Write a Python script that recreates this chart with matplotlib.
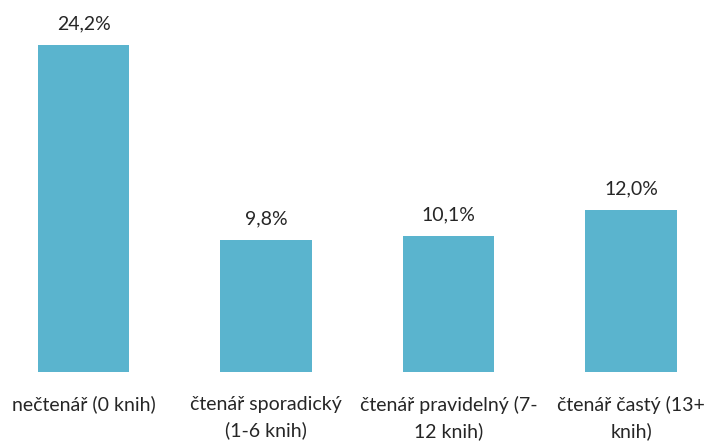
import matplotlib.pyplot as plt
import numpy as np

categories = ["nečtenář (0 knih)", "čtenář sporadický\n(1-6 knih)",
              "čtenář pravidelný (7-\n12 knih)", "čtenář častý (13+\nknih)"]
values = [24.2, 9.8, 10.1, 12.0]
value_labels = ["24,2%", "9,8%", "10,1%", "12,0%"]

plt.rcParams['font.family'] = ['Lato', 'DejaVu Sans']

fig = plt.figure(figsize=(7.07, 4.43), dpi=100)
ax = fig.add_axes([0.0149, 0.1603, 0.981, 0.7619])

x = np.arange(len(values))
bars = ax.bar(x, values, width=0.5, color='#5AB4CE')

# value labels above bars
for xi, v, lab in zip(x, values, value_labels):
    ax.annotate(lab, (xi, v), xytext=(0, 9), textcoords='offset points',
                ha='center', va='bottom', fontsize=14, color='#262626')

ax.set_xlim(-0.4, 3.4)
ax.set_ylim(0, 25)
ax.set_xticks(x)
ax.set_xticklabels(categories, fontsize=14, color='#262626', linespacing=1.55)
ax.tick_params(axis='x', length=0, pad=17)
ax.set_yticks([])
for s in ax.spines.values():
    s.set_visible(False)

fig.savefig('out.png', dpi=100)
